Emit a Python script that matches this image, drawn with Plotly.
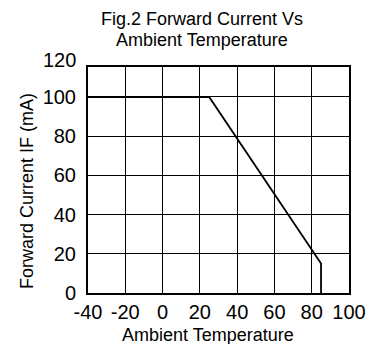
import plotly.graph_objects as go

# Data
temp_c = [-40, 25, 85, 85]
current_ma = [100, 100, 15, 0]

x_ticks = [-40, -20, 0, 20, 40, 60, 80, 100]
y_ticks = [0, 20, 40, 60, 80, 100]
y_top_label = 120
y_axis_top = 115.3

title_lines = ["Fig.2 Forward Current Vs", "Ambient Temperature"]
x_title = "Ambient Temperature"
y_title = "Forward Current IF (mA)"

FONT = "Liberation Sans, Arial, sans-serif"
W, H = 378, 344
L, R, T, B = 88, 25, 67, 51
PW, PH = W - L - R, H - T - B


def px_x(px):
    return (px - L) / PW


def px_y(py):
    return (H - B - py) / PH


fig = go.Figure()
fig.add_trace(go.Scatter(
    x=temp_c, y=current_ma, mode="lines",
    line=dict(color="black", width=1.8),
    showlegend=False, hoverinfo="skip",
))

fig.update_layout(
    width=W, height=H,
    margin=dict(l=L, r=R, t=T, b=B),
    paper_bgcolor="white", plot_bgcolor="white",
    font=dict(family=FONT, color="black"),
)

fig.update_xaxes(
    range=[-40, 100], tickvals=x_ticks, ticktext=[str(v) for v in x_ticks],
    showgrid=True, gridcolor="black", gridwidth=1,
    showline=True, linecolor="black", linewidth=2, mirror=True,
    zeroline=False, ticks="",
    tickfont=dict(family=FONT, size=20, color="black"),
)
fig.update_yaxes(
    range=[0, y_axis_top], tickvals=y_ticks, ticktext=[str(v) for v in y_ticks],
    showgrid=True, gridcolor="black", gridwidth=1,
    showline=True, linecolor="black", linewidth=2, mirror=True,
    zeroline=False, ticks="outside", ticklen=6, tickcolor="rgba(0,0,0,0)",
    tickfont=dict(family=FONT, size=20, color="black"),
)

txt = dict(family=FONT, size=18, color="black")

# Title (two lines)
fig.add_annotation(x=px_x(204), y=px_y(19), xref="paper", yref="paper",
                   text=title_lines[0], showarrow=False, font=txt,
                   xanchor="center", yanchor="middle")
fig.add_annotation(x=px_x(204), y=px_y(40), xref="paper", yref="paper",
                   text=title_lines[1], showarrow=False, font=txt,
                   xanchor="center", yanchor="middle")
# Axis titles
fig.add_annotation(x=px_x(210), y=px_y(335), xref="paper", yref="paper",
                   text=x_title, showarrow=False, font=txt,
                   xanchor="center", yanchor="middle")
fig.add_annotation(x=px_x(26), y=px_y(191), xref="paper", yref="paper",
                   text=y_title, showarrow=False, font=txt, textangle=-90,
                   xanchor="center", yanchor="middle")
# Top tick label that sits above the frame
fig.add_annotation(x=0, y=px_y(60), xref="paper", yref="paper",
                   xanchor="right", xshift=-10, yanchor="middle",
                   text=str(y_top_label), showarrow=False,
                   font=dict(family=FONT, size=20, color="black"))

fig.write_html("out.html")
